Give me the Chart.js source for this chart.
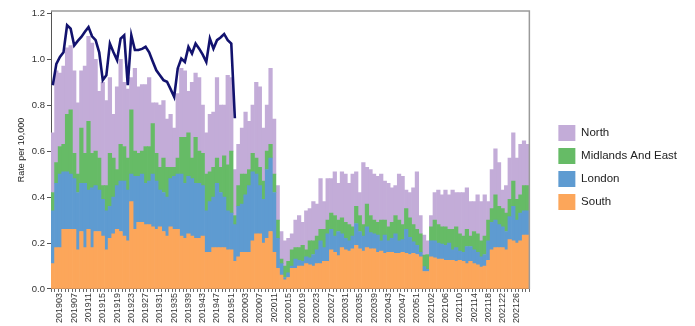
<!DOCTYPE html>
<html>
<head>
<meta charset="utf-8">
<script src="https://cdn.jsdelivr.net/npm/chart.js@4.4.1/dist/chart.umd.min.js"></script>
<style>
  html, body { margin: 0; padding: 0; background: #fff; }
  #wrap { width: 695px; height: 326px; }
</style>
</head>
<body>
<div id="wrap"><canvas id="rateChart"></canvas></div>
<script>
// weekly categories: 2019 w01 .. 2021 w29
const years = [2019, 2020, 2021];
const weeksInYear = [52, 53, 29];

// week labels printed under the axis
const shownWeeks = ['201903', '201907', '201911', '201915', '201919', '201923', '201927', '201931',
  '201935', '201939', '201943', '201947', '201951', '202003', '202007', '202011', '202015', '202019',
  '202023', '202027', '202031', '202035', '202039', '202043', '202047', '202051', '202102', '202106',
  '202110', '202114', '202118', '202122', '202126'];

const yTicks = [0, 0.2, 0.4, 0.6, 0.8, 1.0, 1.2];

// rate per 10,000 by region (stacked)
const south = [
  .11, .18, .18, .26, .26, .26, .26, .17, .25, .18,
  .26, .18, .25, .25, .23, .17, .22, .24, .26, .25,
  .23, .21, .38, .26, .29, .29, .28, .28, .27, .26,
  .27, .25, .23, .27, .26, .26, .23, .22, .24, .23,
  .22, .22, .23, .16, .16, .18, .18, .18, .18, .17,
  .17, .12, .14, .16, .16, .16, .21, .24, .24, .20,
  .22, .25, .16, .09, .06, .04, .05, .09, .09, .10,
  .10, .11, .105, .10, .11, .11, .12, .12, .17, .16,
  .145, .18, .17, .165, .175, .19, .175, .165, .18, .175,
  .175, .16, .165, .155, .16, .16, .155, .155, .16, .155,
  .15, .155, .15, .14, .076, .076, .14, .135, .13, .13,
  .125, .125, .125, .12, .125, .12, .11, .12, .11, .105,
  .095, .10, .125, .17, .18, .18, .18, .17, .215, .21,
  .20, .21, .235, .235
];
const london = [
  .23, .28, .32, .25, .25, .24, .22, .25, .21, .28,
  .17, .26, .20, .18, .16, .17, .14, .16, .19, .22,
  .24, .22, .12, .23, .20, .21, .18, .19, .23, .21,
  .16, .17, .17, .21, .23, .24, .27, .24, .25, .25,
  .24, .24, .22, .18, .22, .22, .28, .24, .22, .17,
  .16, .16, .22, .21, .25, .29, .30, .26, .21, .19,
  .30, .32, .26, .13, .05, .01, .02, .01, .04, .025,
  .02, .03, .03, .05, .06, .10, .06, .12, .09, .07,
  .105, .06, .05, .045, .055, .095, .075, .065, .09, .07,
  .065, .075, .045, .08, .05, .06, .085, .055, .055, .105,
  .075, .05, .04, .02, .021, .009, .07, .075, .07, .065,
  .065, .075, .045, .06, .04, .04, .075, .065, .06, .055,
  .045, .05, .085, .12, .12, .10, .09, .08, .10, .15,
  .10, .12, .105, .105
];
const midlands = [
  .08, .09, .12, .12, .25, .28, .11, .08, .24, .13,
  .30, .15, .15, .14, .06, .11, .23, .17, .07, .16,
  .15, .14, .28, .11, .10, .10, .16, .15, .22, .12,
  .10, .15, .13, .05, .04, .07, .16, .20, .19, .09,
  .20, .14, .14, .16, .13, .13, .11, .11, .18, .20,
  .27, .04, .09, .13, .09, .07, .08, .07, .08, .08,
  .08, .06, .08, .08, .02, .05, .05, .07, .05, .055,
  .07, .03, .075, .06, .06, .05, .08, .06, .07, .09,
  .05, .07, .07, .07, .04, .075, .07, .05, .10, .075,
  .06, .055, .09, .065, .06, .07, .08, .09, .065, .09,
  .085, .075, .07, .08, .05, .065, .06, .09, .08, .075,
  .08, .06, .09, .09, .075, .07, .075, .045, .08, .08,
  .07, .08, .09, .06, .11, .08, .08, .08, .075, .11,
  .09, .08, .11, .11
];
const north = [
  .26, .40, .32, .34, .29, .28, .36, .31, .25, .38,
  .37, .48, .40, .29, .45, .37, .33, .19, .36, .37,
  .28, .30, .14, .36, .29, .29, .27, .30, .09, .22,
  .27, .25, .21, .23, .17, .28, .30, .29, .18, .33,
  .28, .32, .21, .18, .25, .24, .35, .27, .22, .39,
  .32, .20, .18, .20, .27, .21, .21, .33, .35, .23,
  .20, .33, .24, .15, .12, .11, .10, .07, .12, .14,
  .10, .17, .14, .17, .14, .22, .12, .18, .15, .19,
  .16, .20, .21, .18, .23, .15, .10, .27, .16, .20,
  .20, .20, .20, .17, .19, .15, .13, .20, .21, .08,
  .11, .16, .25, .08, .088, .06, .05, .12, .15, .14,
  .16, .15, .17, .15, .18, .19, .18, .15, .13, .17,
  .17, .18, .08, .17, .20, .19, .08, .12, .18, .21,
  .18, .22, .195, .18
];
// 2019 total line (weeks 1-52)
const total2019 = [
  0.887, 0.98, 1.01, 1.03, 1.148, 1.133, 1.06, 1.08, 1.097, 1.12,
  1.14, 1.10, 1.083, 1.03, 0.909, 0.93, 1.068, 1.03, 0.996, 1.09,
  1.104, 0.887, 1.104, 1.04, 1.04, 1.045, 1.054, 1.03, 0.99, 0.952,
  0.93, 0.909, 0.902, 0.87, 0.836, 0.96, 1.003, 0.988, 1.054, 1.025,
  1.068, 1.046, 1.02, 0.988, 1.09, 1.046, 1.083, 1.095, 1.11, 1.083,
  1.068, 0.743
];

const weeks = [];
years.forEach((y, k) => {
  for (let w = 1; w <= weeksInYear[k]; w++) weeks.push(y + String(w).padStart(2, '0'));
});
const lineData = weeks.map((w, i) => (i < total2019.length ? total2019[i] : null));

// top + right edge of the plot box
const plotBox = {
  id: 'plotBox',
  afterDatasetsDraw(chart) {
    const { ctx, chartArea: a } = chart;
    ctx.save();
    ctx.strokeStyle = '#9a9a9a';
    ctx.lineWidth = 1.5;
    ctx.beginPath();
    ctx.moveTo(a.left, a.top);
    ctx.lineTo(a.right, a.top);
    ctx.lineTo(a.right, a.bottom);
    ctx.stroke();
    ctx.restore();
  }
};

Chart.defaults.font.family = "'Liberation Sans', Arial, sans-serif";
Chart.defaults.color = '#333';

const barSet = (label, data, color) => ({
  label, data, backgroundColor: color, borderWidth: 0,
  barPercentage: 1, categoryPercentage: 1, order: 1
});

new Chart(document.getElementById('rateChart'), {
  type: 'bar',
  data: {
    labels: weeks,
    datasets: [
      barSet('South', south, '#fca65a'),
      barSet('London', london, '#5e9bd1'),
      barSet('Midlands And East', midlands, '#66bb66'),
      barSet('North', north, '#c3acd8'),
      {
        type: 'line', label: '2019', data: lineData, stack: 'trend', order: 0,
        borderColor: '#12126e', borderWidth: 2.6, pointRadius: 0, tension: 0,
        spanGaps: false, fill: false
      }
    ]
  },
  options: {
    responsive: true,
    maintainAspectRatio: false,
    animation: false,
    layout: { padding: { left: 14, right: 8, top: 11, bottom: 2 } },
    plugins: {
      legend: {
        position: 'right',
        reverse: true,
        maxWidth: 220,
        labels: {
          boxWidth: 17, boxHeight: 16, padding: 7, color: '#222',
          font: { size: 11.5 },
          filter: item => item.datasetIndex < 4
        }
      },
      tooltip: { enabled: false }
    },
    scales: {
      x: {
        stacked: true,
        grid: { display: true, drawOnChartArea: false, drawTicks: true, tickLength: 3, color: '#666' },
        border: { display: true, color: '#555' },
        ticks: {
          autoSkip: false, maxRotation: 90, minRotation: 90, padding: 1,
          font: { size: 9 }, color: '#333',
          callback: (v, i) => (shownWeeks.includes(weeks[i]) ? weeks[i] : '')
        }
      },
      y: {
        stacked: true,
        min: 0,
        max: 1.21,
        afterBuildTicks: s => {
          s.ticks = yTicks.map(v => ({ value: v }));
        },
        grid: { display: true, drawOnChartArea: false, drawTicks: true, tickLength: 4, color: '#555' },
        border: { display: true, color: '#555' },
        ticks: { padding: 2, font: { size: 9.5 }, color: '#333', callback: v => v.toFixed(1) },
        title: { display: true, text: 'Rate per 10,000', font: { size: 9 }, color: '#222', padding: { top: 2, bottom: 3 } }
      },
      // spacer between plot and legend
      gap: {
        type: 'linear', position: 'right', display: true,
        grid: { display: false }, border: { display: false }, ticks: { display: false },
        afterFit: s => { s.width = 22; }
      }
    }
  },
  plugins: [plotBox]
});
</script>
</body>
</html>
